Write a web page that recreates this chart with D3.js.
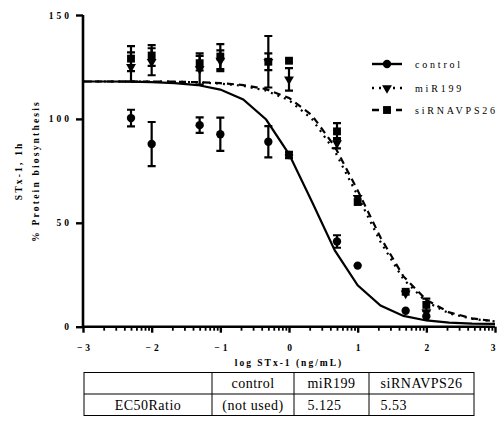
<!DOCTYPE html>
<html>
<head>
<meta charset="utf-8">
<script src="https://cdn.jsdelivr.net/npm/d3@7"></script>
<style>
  html, body { margin: 0; padding: 0; background: #fff; }
  svg { display: block; }
</style>
</head>
<body>
<svg id="chart" width="498" height="426"></svg>
<script>
// log10 of STx-1 dose (ng/mL)
const doses = [-2.301, -2, -1.301, -1, -0.301, 0, 0.699, 1, 1.699, 2];

// mean % protein biosynthesis and error (SD) per dose
const controlMean = [100.4, 87.9, 97, 92.6, 89, 82.6, 41, 29.4, 7.7, 5];
const controlErr  = [4, 10.6, 3.7, 8, 7.5, 1.5, 3, 0, 0, 0];
const mirMean     = [125, 127.5, 124, 128, 127.5, 119, 88.3, 62, 16, 7];
const mirErr      = [7, 6.5, 7.5, 5, 4, 5.4, 2.5, 0, 0, 0];
const siMean      = [129, 130.5, 126.8, 130, 127.5, 128, 94, 60, 16.8, 10.5];
const siErr       = [6, 5, 3.5, 6, 12.4, 0, 4, 0, 0, 3];

// fitted dose-response curves, sampled every 1/3 log unit
const curveX = [-3, -2.667, -2.333, -2, -1.667, -1.333, -1, -0.667, -0.333, 0,
                0.333, 0.667, 1, 1.333, 1.667, 2, 2.333, 2.667, 3];
const controlFit = [118, 118, 117.9, 117.7, 117.2, 116.3, 114.1, 109.4, 99.7, 83.1,
                    60.3, 36.7, 19.9, 10.2, 5.2, 3.0, 2.0, 1.5, 1.35];
const mirFit     = [118, 118, 118, 118, 117.9, 117.6, 117.0, 115.9, 113.6, 109.0,
                    100.0, 84.5, 63.0, 40.8, 22.8, 12.0, 6.4, 3.8, 2.5];
const siFit      = [118, 118, 118, 118, 117.9, 117.7, 117.2, 116.3, 114.3, 110.1,
                    101.8, 86.7, 65.6, 42.9, 24.2, 12.9, 6.9, 4.0, 2.6];

const seriesNames = ["control", "miR199", "siRNAVPS26"];
const xTicks = [-3, -2, -1, 0, 1, 2, 3];
const yTicks = [0, 50, 100, 150];
const minorMultipliers = [2, 3, 4, 5, 6, 7, 8, 9];

// EC50 ratio table
const tableHeader = ["", "control", "miR199", "siRNAVPS26"];
const tableRow = ["EC50Ratio", "(not used)", "5.125", "5.53"];

const SERIF = '"Liberation Serif", "Times New Roman", Times, serif';
const svg = d3.select("#chart");
const x = d3.scaleLinear().domain([-3, 3]).range([83, 495]);
const y = d3.scaleLinear().domain([0, 150]).range([326.7, 15]);

const boldLabel = (sel, spacing) => sel
  .style("font-family", SERIF)
  .style("font-size", "9.5px")
  .style("font-weight", "bold")
  .style("letter-spacing", spacing + "px")
  .attr("fill", "#000");

// y axis
const yAxis = svg.append("g")
  .attr("transform", `translate(${x(-3)},0)`)
  .call(d3.axisLeft(y).tickValues(yTicks).tickSize(7).tickPadding(4).tickFormat(d3.format("d")));
yAxis.select(".domain").attr("stroke-width", 2.6).attr("d", `M0,${y(150)}V${y(0)}`);
yAxis.selectAll(".tick line").attr("stroke-width", 2.4);
boldLabel(yAxis.selectAll("text"), 3);

// x axis: minor log ticks, then major ticks with labels
const minorVals = [];
for (let d = -3; d < 3; d++) minorMultipliers.forEach(k => minorVals.push(d + Math.log10(k)));
svg.append("g")
  .attr("transform", `translate(0,${y(0)})`)
  .call(d3.axisBottom(x).tickValues(minorVals).tickSize(4).tickFormat(""))
  .call(g => g.select(".domain").remove())
  .selectAll(".tick line").attr("stroke-width", 1.8);

const xAxis = svg.append("g")
  .attr("transform", `translate(0,${y(0)})`)
  .call(d3.axisBottom(x).tickValues(xTicks).tickSize(6).tickPadding(12).tickFormat(d3.format("d")));
xAxis.select(".domain").attr("stroke-width", 2.6).attr("d", `M${x(-3)},0H${x(3)}`);
xAxis.selectAll(".tick line").attr("stroke-width", 2.4);
boldLabel(xAxis.selectAll("text"), 3);
xAxis.selectAll("text").attr("dx", d => d === 3 ? "-1px" : "1.5px");

// axis titles
boldLabel(svg.append("text"), 2)
  .attr("x", (x(-3) + x(3)) / 2).attr("y", 366)
  .attr("text-anchor", "middle")
  .text("log STx-1 (ng/mL)");

const yTitle = svg.append("g").attr("transform", `translate(0,${(y(0) + y(150)) / 2}) rotate(-90)`);
boldLabel(yTitle.append("text"), 2.2)
  .attr("x", 0).attr("y", 21.5).attr("text-anchor", "middle")
  .text("STx-1, 1h");
boldLabel(yTitle.append("text"), 2.2)
  .attr("x", 0).attr("y", 38.5).attr("text-anchor", "middle")
  .text("% Protein biosynthesis");

// fitted curves
const line = d3.line().x(d => x(d[0])).y(d => y(d[1]));
const curves = [
  { fit: controlFit, dash: null },
  { fit: mirFit, dash: "2,5" },
  { fit: siFit, dash: "7,5" }
];
curves.forEach(c => {
  svg.append("path")
    .datum(curveX.map((v, i) => [v, c.fit[i]]))
    .attr("d", line)
    .attr("fill", "none").attr("stroke", "#000").attr("stroke-width", 2.2)
    .attr("stroke-dasharray", c.dash);
});

// symbols
const symbolFor = name => name === "control" ? d3.symbolCircle
  : name === "miR199" ? d3.symbolTriangle : d3.symbolSquare;
const symbolSize = { control: 55, miR199: 42, siRNAVPS26: 62 };
const drawSymbol = (g, name, cx, cy) => {
  const s = g.append("path")
    .attr("d", d3.symbol().type(symbolFor(name)).size(symbolSize[name])())
    .attr("fill", "#000");
  if (name === "miR199") s.attr("transform", `translate(${cx},${cy}) rotate(180)`);
  else s.attr("transform", `translate(${cx},${cy})`);
};

const seriesData = [
  { name: "siRNAVPS26", mean: siMean, err: siErr },
  { name: "miR199", mean: mirMean, err: mirErr },
  { name: "control", mean: controlMean, err: controlErr }
];
seriesData.forEach(s => {
  const g = svg.append("g");
  doses.forEach((d, i) => {
    const e = s.err[i];
    if (e > 0) {
      const cx = x(d), top = y(s.mean[i] + e), bot = y(s.mean[i] - e);
      g.append("path")
        .attr("d", `M${cx},${top}V${bot}M${cx - 4},${top}H${cx + 4}M${cx - 4},${bot}H${cx + 4}`)
        .attr("stroke", "#000").attr("stroke-width", 2.2).attr("fill", "none");
    }
    drawSymbol(g, s.name, x(d), y(s.mean[i]));
  });
});

// legend
const legendY = [64, 88, 110];
const legendDash = [null, "2,5", "7,5"];
seriesNames.forEach((name, i) => {
  const g = svg.append("g").attr("transform", `translate(0,${legendY[i]})`);
  g.append("path").attr("d", "M372,0H402")
    .attr("stroke", "#000").attr("stroke-width", 2.4).attr("stroke-dasharray", legendDash[i]);
  drawSymbol(g, name, 387, 0);
  g.append("text")
    .attr("x", 415).attr("y", 3.5)
    .style("font-family", SERIF)
    .style("font-size", "10px").style("letter-spacing", "2.8px")
    .text(name);
});

// EC50 ratio table
const colEdges = [84, 212, 294, 369, 474];
const rowEdges = [372.5, 394, 415.5];
const table = svg.append("g").style("font-family", SERIF);
table.append("rect")
  .attr("x", colEdges[0]).attr("y", rowEdges[0])
  .attr("width", colEdges[4] - colEdges[0]).attr("height", rowEdges[2] - rowEdges[0])
  .attr("fill", "none").attr("stroke", "#000").attr("stroke-width", 1);
table.append("path")
  .attr("d", `M${colEdges[0]},${rowEdges[1]}H${colEdges[4]}` +
    colEdges.slice(1, 4).map(c => `M${c},${rowEdges[0]}V${rowEdges[2]}`).join(""))
  .attr("stroke", "#000").attr("stroke-width", 1);

const headerStarts = [];
tableHeader.forEach((t, i) => {
  const cx = (colEdges[i] + colEdges[i + 1]) / 2;
  const txt = table.append("text")
    .attr("x", cx).attr("y", rowEdges[0] + 15.5).attr("text-anchor", "middle")
    .style("font-size", "14px").style("letter-spacing", "0.5px").text(t);
  headerStarts.push(txt.node().getBBox().x);
});
tableRow.forEach((t, i) => {
  const cx = (colEdges[i] + colEdges[i + 1]) / 2;
  const txt = table.append("text").attr("y", rowEdges[1] + 15.5)
    .style("font-size", "14px").style("letter-spacing", "0.5px").text(t);
  if (i < 2) txt.attr("x", cx).attr("text-anchor", "middle");
  else txt.attr("x", headerStarts[i]);
});
</script>
</body>
</html>
